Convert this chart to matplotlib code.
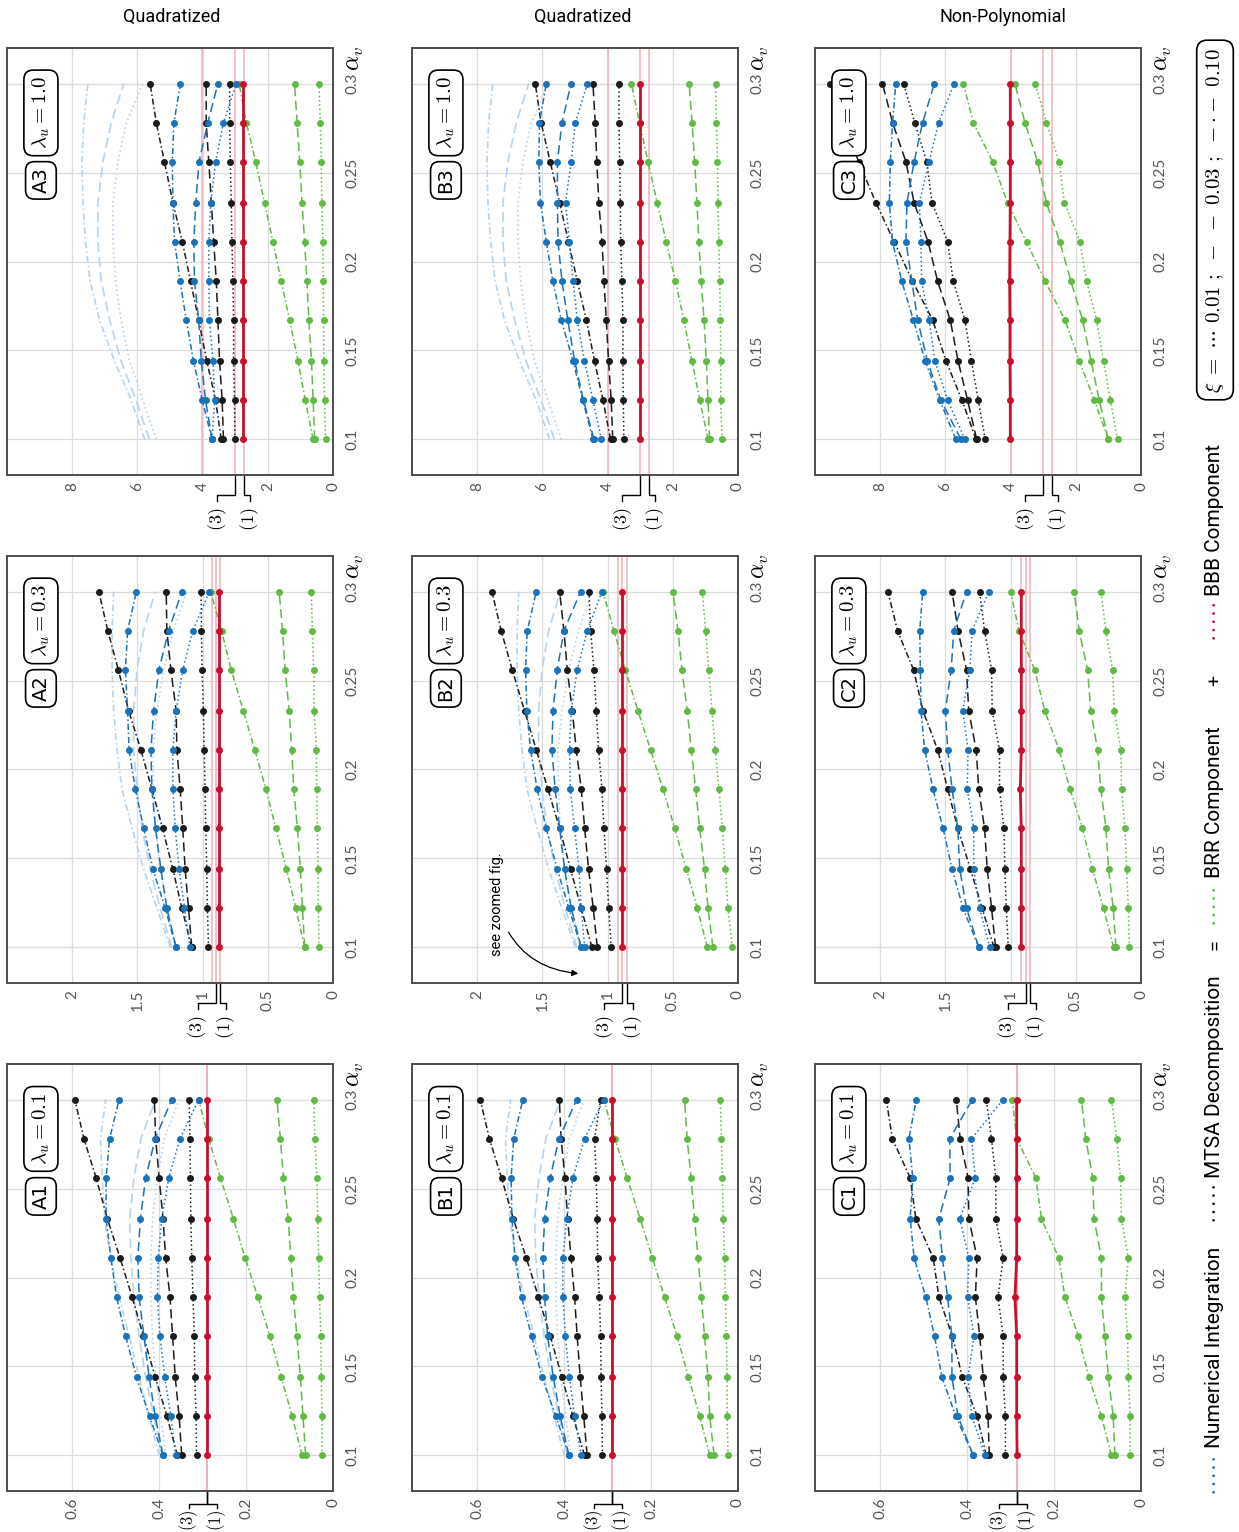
import matplotlib
matplotlib.use("Agg")
import matplotlib.pyplot as plt
from matplotlib import font_manager
from matplotlib.transforms import blended_transform_factory

plt.rcParams["mathtext.fontset"] = "cm"

installed = {f.name for f in font_manager.fontManager.ttflist}
NARROW = "Liberation Sans Narrow" if "Liberation Sans Narrow" in installed else "Roboto"
TICKFONT = "Lato" if "Lato" in installed else "DejaVu Sans"
plt.rcParams["font.family"] = [TICKFONT, "DejaVu Sans"]

# ---- data ------------------------------------------------------------------
ALPHA_V = [0.1, 0.122, 0.144, 0.167, 0.189, 0.211, 0.233, 0.256, 0.278, 0.3]
ALPHA_TICKS = [0.1, 0.15, 0.2, 0.25, 0.3]
TICKS_LAM01 = [0, 0.2, 0.4, 0.6]
TICKS_LAM03 = [0, 0.5, 1, 1.5, 2]
TICKS_LAM10 = [0, 2, 4, 6, 8]
COLUMN_TITLES = ["Quadratized", "Quadratized", "Non-Polynomial"]

# every *_NUM / *_MTSA / *_BRR / *_REF entry: [xi = 0.10, xi = 0.03, xi = 0.01]
A1_NUM = [[0.391, 0.422, 0.452, 0.477, 0.498, 0.511, 0.522, 0.522, 0.514, 0.492],
          [0.391, 0.409, 0.423, 0.435, 0.446, 0.449, 0.443, 0.431, 0.409, 0.371],
          [0.362, 0.373, 0.387, 0.398, 0.404, 0.402, 0.394, 0.378, 0.352, 0.309]]
A1_MTSA = [[0.358, 0.382, 0.409, 0.436, 0.462, 0.490, 0.519, 0.545, 0.573, 0.594],
           [0.348, 0.354, 0.363, 0.369, 0.375, 0.385, 0.391, 0.400, 0.408, 0.411],
           [0.314, 0.315, 0.318, 0.319, 0.322, 0.325, 0.327, 0.328, 0.329, 0.331]]
A1_BRR = [[0.071, 0.094, 0.119, 0.145, 0.173, 0.202, 0.229, 0.259, 0.286, 0.309],
          [0.063, 0.069, 0.075, 0.083, 0.091, 0.097, 0.103, 0.114, 0.121, 0.129],
          [0.025, 0.025, 0.027, 0.028, 0.031, 0.033, 0.035, 0.037, 0.042, 0.044]]
A1_BBB = [0.29, 0.29, 0.29, 0.29, 0.29, 0.29, 0.29, 0.29, 0.29, 0.29]
A1_REF = [[0.400, 0.423, 0.446, 0.469, 0.492, 0.512, 0.525, 0.531, 0.535, 0.523],
          [0.392, 0.412, 0.431, 0.446, 0.458, 0.465, 0.468, 0.458, 0.442, 0.408],
          [0.385, 0.396, 0.408, 0.415, 0.419, 0.419, 0.415, 0.404, 0.388, 0.354]]
A1_LEVELS = [0.29, 0.29, 0.29]

A2_NUM = [[1.203, 1.287, 1.381, 1.452, 1.516, 1.564, 1.575, 1.592, 1.575, 1.508],
          [1.203, 1.274, 1.320, 1.361, 1.389, 1.396, 1.376, 1.335, 1.261, 1.159],
          [1.096, 1.139, 1.180, 1.210, 1.228, 1.228, 1.203, 1.152, 1.075, 0.948]]
A2_MTSA = [[1.083, 1.159, 1.228, 1.307, 1.389, 1.473, 1.567, 1.646, 1.727, 1.796],
           [1.083, 1.108, 1.134, 1.152, 1.172, 1.197, 1.203, 1.243, 1.274, 1.279],
           [0.955, 0.963, 0.968, 0.976, 0.981, 0.988, 0.994, 1.004, 1.009, 1.011]]
A2_BRR = [[0.217, 0.285, 0.357, 0.438, 0.515, 0.599, 0.688, 0.780, 0.855, 0.938],
          [0.217, 0.234, 0.250, 0.273, 0.301, 0.316, 0.336, 0.367, 0.387, 0.413],
          [0.107, 0.112, 0.115, 0.120, 0.125, 0.127, 0.145, 0.148, 0.158, 0.166]]
A2_BBB = [0.874, 0.874, 0.874, 0.874, 0.874, 0.874, 0.874, 0.874, 0.874, 0.874]
A2_REF = [[1.248, 1.350, 1.452, 1.541, 1.618, 1.656, 1.682, 1.694, 1.694, 1.682],
          [1.236, 1.325, 1.401, 1.465, 1.503, 1.529, 1.529, 1.503, 1.452, 1.363],
          [1.210, 1.274, 1.325, 1.363, 1.376, 1.381, 1.350, 1.299, 1.223, 1.121]]
A2_LEVELS = [0.93, 0.897, 0.866]

A3_NUM = [[3.71, 4.01, 4.28, 4.50, 4.69, 4.86, 4.91, 4.93, 4.88, 4.68],
          [3.71, 3.91, 4.04, 4.12, 4.25, 4.27, 4.21, 4.11, 3.84, 3.53],
          [3.71, 3.63, 3.68, 3.79, 3.81, 3.81, 3.75, 3.60, 3.36, 2.97]]
A3_MTSA = [[3.43, 3.60, 3.87, 4.12, 4.37, 4.62, 4.91, 5.17, 5.42, 5.61],
           [3.36, 3.40, 3.48, 3.53, 3.58, 3.66, 3.73, 3.81, 3.89, 3.89],
           [3.01, 3.02, 3.05, 3.05, 3.07, 3.10, 3.12, 3.15, 3.17, 3.17]]
A3_BRR = [[0.61, 0.85, 1.07, 1.33, 1.59, 1.84, 2.10, 2.37, 2.66, 2.88],
          [0.56, 0.61, 0.66, 0.74, 0.80, 0.87, 0.95, 1.02, 1.10, 1.18],
          [0.23, 0.26, 0.28, 0.29, 0.30, 0.31, 0.34, 0.36, 0.39, 0.43]]
A3_BBB = [2.76, 2.76, 2.76, 2.76, 2.76, 2.76, 2.76, 2.76, 2.76, 2.76]
A3_REF = [[5.78, 6.19, 6.70, 7.16, 7.45, 7.59, 7.67, 7.70, 7.65, 7.52],
          [5.63, 6.04, 6.50, 6.85, 7.11, 7.21, 7.21, 7.06, 6.80, 6.42],
          [5.42, 5.83, 6.24, 6.50, 6.67, 6.75, 6.75, 6.60, 6.34, 5.83]]
A3_LEVELS = [4.02, 3.0, 2.73]

B1_NUM = [[0.389, 0.419, 0.451, 0.475, 0.498, 0.513, 0.520, 0.522, 0.516, 0.495],
          [0.389, 0.409, 0.425, 0.438, 0.445, 0.449, 0.445, 0.432, 0.412, 0.371],
          [0.361, 0.376, 0.388, 0.397, 0.403, 0.403, 0.394, 0.380, 0.353, 0.309]]
B1_MTSA = [[0.353, 0.380, 0.405, 0.432, 0.459, 0.487, 0.517, 0.544, 0.572, 0.593],
           [0.347, 0.355, 0.363, 0.370, 0.376, 0.384, 0.392, 0.398, 0.407, 0.411],
           [0.312, 0.313, 0.315, 0.316, 0.319, 0.323, 0.324, 0.326, 0.330, 0.316]]
B1_BRR = [[0.065, 0.088, 0.114, 0.140, 0.169, 0.197, 0.225, 0.255, 0.283, 0.309],
          [0.055, 0.065, 0.069, 0.077, 0.084, 0.092, 0.100, 0.108, 0.117, 0.123],
          [0.023, 0.025, 0.025, 0.027, 0.029, 0.031, 0.034, 0.036, 0.038, 0.041]]
B1_BBB = [0.29, 0.29, 0.29, 0.29, 0.29, 0.29, 0.29, 0.29, 0.29, 0.29]
B1_REF = [[0.400, 0.423, 0.446, 0.469, 0.492, 0.512, 0.525, 0.531, 0.535, 0.523],
          [0.392, 0.412, 0.431, 0.446, 0.458, 0.465, 0.468, 0.458, 0.442, 0.408],
          [0.385, 0.396, 0.408, 0.415, 0.419, 0.419, 0.415, 0.404, 0.388, 0.354]]
B1_LEVELS = [0.29, 0.29, 0.29]

B2_NUM = [[1.202, 1.297, 1.386, 1.471, 1.540, 1.591, 1.619, 1.629, 1.616, 1.547],
          [1.202, 1.279, 1.330, 1.368, 1.402, 1.427, 1.419, 1.386, 1.335, 1.207],
          [1.176, 1.202, 1.220, 1.253, 1.286, 1.292, 1.279, 1.233, 1.156, 1.043]]
B2_MTSA = [[1.120, 1.202, 1.284, 1.368, 1.458, 1.547, 1.637, 1.731, 1.816, 1.887],
           [1.079, 1.110, 1.146, 1.176, 1.202, 1.240, 1.271, 1.309, 1.335, 1.368],
           [0.972, 0.992, 1.008, 1.028, 1.043, 1.069, 1.087, 1.105, 1.130, 1.143]]
B2_BRR = [[0.235, 0.312, 0.396, 0.486, 0.575, 0.670, 0.767, 0.864, 0.951, 1.036],
          [0.192, 0.230, 0.256, 0.294, 0.325, 0.358, 0.389, 0.430, 0.460, 0.499],
          [0.043, 0.077, 0.097, 0.120, 0.146, 0.174, 0.199, 0.225, 0.248, 0.274]]
B2_BBB = [0.887, 0.887, 0.887, 0.887, 0.887, 0.887, 0.887, 0.887, 0.887, 0.887]
B2_REF = [[1.248, 1.350, 1.452, 1.541, 1.618, 1.656, 1.682, 1.694, 1.694, 1.682],
          [1.236, 1.325, 1.401, 1.465, 1.503, 1.529, 1.529, 1.503, 1.452, 1.363],
          [1.210, 1.274, 1.325, 1.363, 1.376, 1.381, 1.350, 1.299, 1.223, 1.121]]
B2_LEVELS = [0.92, 0.887, 0.854]

B3_NUM = [[4.45, 4.76, 5.06, 5.42, 5.68, 5.88, 6.06, 6.11, 6.09, 5.88],
          [4.42, 4.74, 5.01, 5.22, 5.40, 5.52, 5.54, 5.54, 5.40, 5.12],
          [4.19, 4.45, 4.71, 4.93, 5.06, 5.17, 5.29, 5.12, 4.99, 4.62]]
B3_MTSA = [[3.91, 4.14, 4.40, 4.65, 4.93, 5.20, 5.47, 5.76, 6.04, 6.22],
           [3.84, 3.89, 3.97, 4.04, 4.11, 4.17, 4.27, 4.33, 4.38, 4.45],
           [3.50, 3.52, 3.53, 3.53, 3.56, 3.60, 3.61, 3.63, 3.65, 3.65]]
B3_BRR = [[0.92, 1.17, 1.41, 1.66, 1.92, 2.20, 2.48, 2.76, 3.02, 3.27],
          [0.87, 0.92, 0.97, 1.04, 1.13, 1.20, 1.26, 1.33, 1.41, 1.50],
          [0.49, 0.53, 0.53, 0.54, 0.56, 0.59, 0.61, 0.63, 0.66, 0.69]]
B3_BBB = [3.02, 3.02, 3.02, 3.02, 3.02, 3.02, 3.02, 3.02, 3.02, 3.02]
B3_REF = [[5.78, 6.19, 6.70, 7.16, 7.45, 7.59, 7.67, 7.70, 7.65, 7.52],
          [5.63, 6.04, 6.50, 6.85, 7.11, 7.21, 7.21, 7.06, 6.80, 6.42],
          [5.42, 5.83, 6.24, 6.50, 6.67, 6.75, 6.75, 6.60, 6.34, 5.83]]
B3_LEVELS = [4.0, 3.0, 2.73]

C1_NUM = [[0.386, 0.426, 0.458, 0.475, 0.495, 0.522, 0.531, 0.525, 0.534, 0.517],
          [0.386, 0.421, 0.435, 0.435, 0.445, 0.457, 0.465, 0.439, 0.440, 0.388],
          [0.359, 0.389, 0.398, 0.384, 0.399, 0.396, 0.417, 0.381, 0.390, 0.317]]
C1_MTSA = [[0.356, 0.377, 0.411, 0.434, 0.465, 0.478, 0.518, 0.531, 0.572, 0.586],
           [0.349, 0.352, 0.363, 0.371, 0.381, 0.377, 0.396, 0.398, 0.416, 0.425],
           [0.312, 0.312, 0.317, 0.317, 0.329, 0.317, 0.334, 0.334, 0.344, 0.356]]
C1_BRR = [[0.068, 0.091, 0.120, 0.144, 0.175, 0.189, 0.229, 0.242, 0.286, 0.296],
          [0.060, 0.064, 0.075, 0.083, 0.091, 0.091, 0.108, 0.111, 0.127, 0.137],
          [0.025, 0.025, 0.029, 0.031, 0.037, 0.029, 0.045, 0.047, 0.056, 0.068]]
C1_BBB = [0.285, 0.286, 0.286, 0.286, 0.290, 0.286, 0.286, 0.286, 0.286, 0.286]
C1_LEVELS = [0.286, 0.286, 0.286]

C2_NUM = [[1.244, 1.364, 1.449, 1.518, 1.595, 1.659, 1.687, 1.692, 1.697, 1.674],
          [1.244, 1.338, 1.390, 1.405, 1.449, 1.482, 1.500, 1.456, 1.436, 1.338],
          [1.159, 1.238, 1.282, 1.282, 1.333, 1.326, 1.367, 1.313, 1.295, 1.167]]
C2_MTSA = [[1.128, 1.218, 1.308, 1.405, 1.482, 1.559, 1.672, 1.744, 1.867, 1.941],
           [1.115, 1.146, 1.179, 1.200, 1.244, 1.264, 1.321, 1.338, 1.403, 1.449],
           [1.018, 1.033, 1.044, 1.051, 1.085, 1.085, 1.141, 1.146, 1.200, 1.238]]
C2_BRR = [[0.210, 0.287, 0.372, 0.449, 0.544, 0.628, 0.738, 0.815, 0.936, 1.000],
          [0.192, 0.213, 0.249, 0.269, 0.308, 0.333, 0.385, 0.410, 0.474, 0.513],
          [0.090, 0.097, 0.110, 0.123, 0.149, 0.154, 0.205, 0.218, 0.269, 0.308]]
C2_BBB = [0.918, 0.918, 0.918, 0.918, 0.926, 0.918, 0.918, 0.918, 0.918, 0.918]
C2_LEVELS = [0.923, 0.885, 0.851]

C3_NUM = [[5.68, 6.17, 6.62, 6.98, 7.34, 7.62, 7.72, 7.69, 7.62, 7.52],
          [5.52, 6.14, 6.55, 6.85, 7.03, 7.21, 7.18, 6.96, 6.70, 6.34],
          [5.40, 5.93, 6.32, 6.50, 6.73, 6.75, 6.80, 6.50, 6.21, 5.73]]
C3_MTSA = [[5.06, 5.49, 5.98, 6.39, 7.01, 7.57, 8.13, 8.66, 9.10, 9.53],
           [5.04, 5.32, 5.61, 5.85, 6.24, 6.53, 6.96, 7.21, 7.62, 7.93],
           [4.78, 4.99, 5.20, 5.40, 5.76, 5.93, 6.41, 6.57, 6.94, 7.28]]
C3_BRR = [[1.00, 1.43, 1.89, 2.33, 2.94, 3.51, 4.09, 4.55, 5.14, 5.45],
          [1.00, 1.28, 1.53, 1.79, 2.15, 2.49, 2.90, 3.17, 3.56, 3.87],
          [0.72, 0.94, 1.15, 1.36, 1.67, 1.87, 2.35, 2.51, 2.90, 3.24]]
C3_BBB = [4.01, 4.01, 4.02, 4.02, 4.03, 4.02, 4.01, 4.01, 4.01, 4.01]
C3_LEVELS = [4.0, 3.0, 2.73]

# ---- style -------------------------------------------------------------------
LS = [(0, (4, 1.8, 1, 1.8)), (0, (6, 3)), (0, (1, 1.8))]  # xi = 0.10, 0.03, 0.01
BLUE, BLACK, GREEN, RED = "#1a72bb", "#1b1b1b", "#63b946", "#c8102e"
LIGHT, PINK, GRID, SPINE = "#b6d4ee", "#f2b0b9", "#dcdcdc", "#4d4d4d"

W, H = 1239, 1532
fig = plt.figure(figsize=(W / 100, H / 100), dpi=100)
AX_W, AX_H = 326, 427


def add_ax(left, top):
    return fig.add_axes([left / W, 1 - (top + AX_H) / H, AX_W / W, AX_H / H])


def braces(ax, t3, t1, xmax, low=False):
    # bottom row sits on the page edge, so its brace labels are pulled up
    scale = AX_W / xmax
    v3 = t3 + 18 / scale
    v1 = min(t1 - 6 / scale, v3 - 28 / scale)
    d1, d2, ylab, fs = (0.03, 0.04, -0.068, 12) if low else (0.048, 0.062, -0.103, 13)
    tr = blended_transform_factory(ax.transData, ax.transAxes)
    for t, v, lab in ((t3, v3, "(3)"), (t1, v1, "(1)")):
        ax.plot([t, t, v, v], [0, -d1, -d1, -d2], transform=tr,
                color="black", lw=1.0, clip_on=False, solid_joinstyle="round")
        ax.text(v, ylab, "$" + lab + "$", transform=tr, rotation=90,
                ha="center", va="center", fontsize=fs)


def draw_panel(ax, num, mtsa, brr, bbb, ref, levels, xmax, xticks, tag, lam):
    ax.set_xlim(xmax, 0)
    ax.set_ylim(0.08, 0.32)
    ax.set_xticks(xticks)
    ax.set_xticklabels([f"{t:g}" for t in xticks], rotation=90)
    ax.set_yticks(ALPHA_TICKS)
    ax.set_yticklabels([f"{t:g}" for t in ALPHA_TICKS], rotation=90, va="center")
    ax.yaxis.tick_right()
    ax.tick_params(length=0, labelsize=11, labelcolor="#555555")
    ax.tick_params(axis="x", pad=5)
    ax.tick_params(axis="y", pad=9)
    ax.grid(True, color=GRID, lw=0.9)
    ax.set_axisbelow(True)
    for sp in ax.spines.values():
        sp.set_color(SPINE)
        sp.set_linewidth(1.4)

    for v in levels:
        ax.axvline(v, color=PINK, lw=1.1, zorder=1)
    if ref is not None:
        for s, ls in zip(ref, LS):
            ax.plot(s, ALPHA_V, color=LIGHT, ls=ls, lw=1.2, zorder=2)
    for series, col in ((brr, GREEN), (mtsa, BLACK), (num, BLUE)):
        for s, ls in zip(series, LS):
            ax.plot(s, ALPHA_V, color=col, ls=ls, lw=1.1, marker="o", ms=4,
                    zorder=3)
    ax.plot(bbb, ALPHA_V, color=RED, lw=2.0, marker="o", ms=4, zorder=4)

    box = dict(boxstyle="round,pad=0.3,rounding_size=0.45", fc="white",
               ec="black", lw=1.2)
    ax.text(0.104, 0.69, tag, transform=ax.transAxes, rotation=90, ha="center",
            va="center", fontsize=14, family="DejaVu Sans", bbox=box, zorder=10)
    ax.text(0.104, 0.848, r"$\lambda_u = %s$" % lam, transform=ax.transAxes,
            rotation=90, ha="center", va="center", fontsize=15, bbox=box,
            zorder=10)
    ax.text(1.07, 0.975, r"$\alpha_v$", transform=ax.transAxes, rotation=90,
            ha="center", va="center", fontsize=17)
    braces(ax, levels[1], levels[2], xmax, low=(lam == "0.1"))


COL_LEFT = [7, 412, 815]
ROW_TOP = {"1.0": 48, "0.3": 556, "0.1": 1064}
PANELS = [
    ("A1", "0.1", 0, A1_NUM, A1_MTSA, A1_BRR, A1_BBB, A1_REF, A1_LEVELS, 0.75, TICKS_LAM01),
    ("A2", "0.3", 0, A2_NUM, A2_MTSA, A2_BRR, A2_BBB, A2_REF, A2_LEVELS, 2.5, TICKS_LAM03),
    ("A3", "1.0", 0, A3_NUM, A3_MTSA, A3_BRR, A3_BBB, A3_REF, A3_LEVELS, 10, TICKS_LAM10),
    ("B1", "0.1", 1, B1_NUM, B1_MTSA, B1_BRR, B1_BBB, B1_REF, B1_LEVELS, 0.75, TICKS_LAM01),
    ("B2", "0.3", 1, B2_NUM, B2_MTSA, B2_BRR, B2_BBB, B2_REF, B2_LEVELS, 2.5, TICKS_LAM03),
    ("B3", "1.0", 1, B3_NUM, B3_MTSA, B3_BRR, B3_BBB, B3_REF, B3_LEVELS, 10, TICKS_LAM10),
    ("C1", "0.1", 2, C1_NUM, C1_MTSA, C1_BRR, C1_BBB, None, C1_LEVELS, 0.75, TICKS_LAM01),
    ("C2", "0.3", 2, C2_NUM, C2_MTSA, C2_BRR, C2_BBB, None, C2_LEVELS, 2.5, TICKS_LAM03),
    ("C3", "1.0", 2, C3_NUM, C3_MTSA, C3_BRR, C3_BBB, None, C3_LEVELS, 10, TICKS_LAM10),
]

axes = {}
for tag, lam, col, num, mtsa, brr, bbb, ref, levels, xmax, xt in PANELS:
    ax = add_ax(COL_LEFT[col], ROW_TOP[lam])
    draw_panel(ax, num, mtsa, brr, bbb, ref, levels, xmax, xt, tag, lam)
    axes[tag] = ax

# pointer to the zoomed-in figure
axes["B2"].annotate("see zoomed fig.", xy=(0.51, 0.022), xycoords="axes fraction",
                    xytext=(0.262, 0.185), textcoords="axes fraction",
                    rotation=90, ha="center", va="center", fontsize=10.5,
                    family=NARROW,
                    arrowprops=dict(arrowstyle="-|>", color="black", lw=0.9,
                                    shrinkA=2, shrinkB=0, mutation_scale=9,
                                    connectionstyle="arc3,rad=0.35"))

for x, title in zip([172, 583, 1003], COLUMN_TITLES):
    fig.text(x / W, 1 - 17 / H, title, ha="center", va="center", fontsize=13,
             family=NARROW)


def ftext(y, s, **kw):
    fig.text(1215 / W, 1 - y / H, s, rotation=90, ha="center", va="center", **kw)


# legend along the right edge
DOTS = "• • • • •"
ftext(1475, DOTS, color=BLUE, fontsize=6.5, family="DejaVu Sans")
ftext(1347, "Numerical Integration", fontsize=15, family=NARROW)
ftext(1203, DOTS, color=BLACK, fontsize=6.5, family="DejaVu Sans")
ftext(1077, "MTSA Decomposition", fontsize=15, family=NARROW)
ftext(945, "=", fontsize=14, family=NARROW)
ftext(906, DOTS, color=GREEN, fontsize=6.5, family="DejaVu Sans")
ftext(802, "BRR Component", fontsize=15, family=NARROW)
ftext(680, "+", fontsize=14, family=NARROW)
ftext(621, DOTS, color=RED, fontsize=6.5, family="DejaVu Sans")
ftext(520, "BBB Component", fontsize=15, family=NARROW)
ftext(220, r"$\xi\ =\ \cdots\ 0.01\ ;\ -\ -\ 0.03\ ;\ -\!\cdot\!-\ 0.10$",
      fontsize=15,
      bbox=dict(boxstyle="round,pad=0.35,rounding_size=0.5", fc="white",
                ec="black", lw=1.2))

fig.savefig("out.png", dpi=100)
